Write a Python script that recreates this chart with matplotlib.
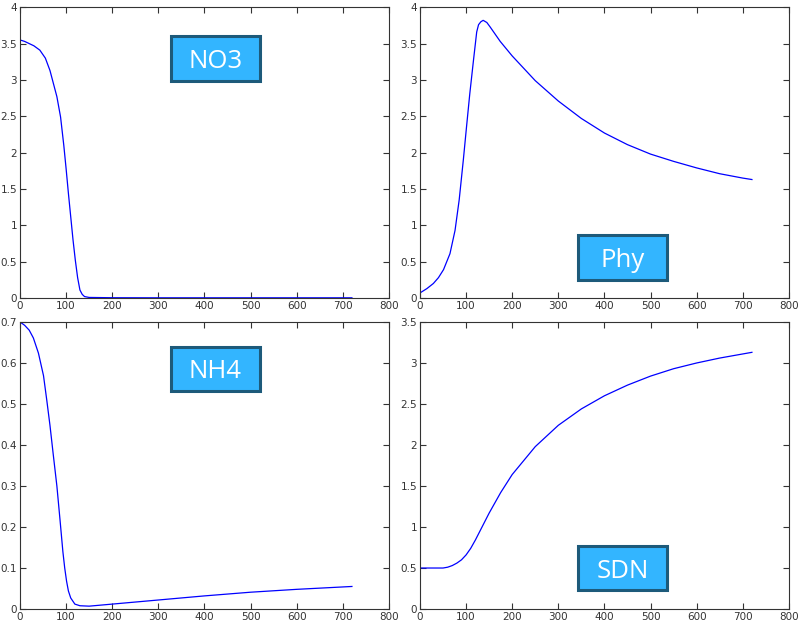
import matplotlib
matplotlib.use('Agg')
import matplotlib.pyplot as plt
from matplotlib.patches import Rectangle

# time axis (days) and the four state variables
t_no3 = [0, 10, 20, 30, 43, 55, 65, 80, 88, 95, 100, 105, 110, 115, 120, 125, 130, 135, 140, 150, 200, 300, 400, 500, 600, 720]
no3 = [3.55, 3.53, 3.5, 3.47, 3.41, 3.3, 3.13, 2.77, 2.49, 2.1, 1.78, 1.44, 1.12, 0.8, 0.52, 0.28, 0.11, 0.05, 0.02, 0.008, 0.004, 0.003, 0.003, 0.003, 0.003, 0.003]

t_phy = [0, 15, 29, 40, 51, 65, 76, 85, 94, 101, 108, 116, 123, 127, 132, 137, 145, 152, 174, 200, 250, 300, 350, 400, 450, 500, 550, 600, 650, 700, 720]
phy = [0.07, 0.13, 0.2, 0.28, 0.39, 0.61, 0.93, 1.35, 1.9, 2.36, 2.81, 3.27, 3.66, 3.76, 3.8, 3.82, 3.79, 3.73, 3.53, 3.33, 2.99, 2.71, 2.47, 2.27, 2.11, 1.98, 1.88, 1.79, 1.71, 1.65, 1.63]

t_nh4 = [0, 10, 20, 29, 40, 51, 58, 65, 72, 80, 87, 93, 97, 101, 105, 110, 119, 130, 150, 200, 300, 400, 500, 600, 720]
nh4 = [0.7, 0.692, 0.68, 0.661, 0.624, 0.569, 0.51, 0.448, 0.378, 0.3, 0.215, 0.14, 0.1, 0.068, 0.044, 0.027, 0.012, 0.008, 0.007, 0.012, 0.022, 0.032, 0.041, 0.048, 0.055]

t_sdn = [0, 25, 50, 60, 70, 80, 90, 100, 110, 120, 130, 140, 150, 175, 200, 250, 300, 350, 400, 450, 500, 550, 600, 650, 700, 720]
sdn = [0.5, 0.5, 0.5, 0.51, 0.53, 0.56, 0.6, 0.66, 0.74, 0.84, 0.95, 1.06, 1.17, 1.42, 1.64, 1.98, 2.24, 2.44, 2.6, 2.73, 2.84, 2.93, 3.0, 3.06, 3.11, 3.13]

titles = ['NO3', 'Phy', 'NH4', 'SDN']
ylims = [4, 4, 0.7, 3.5]
yticks = [[0, 0.5, 1, 1.5, 2, 2.5, 3, 3.5, 4],
          [0, 0.5, 1, 1.5, 2, 2.5, 3, 3.5, 4],
          [0, 0.1, 0.2, 0.3, 0.4, 0.5, 0.6, 0.7],
          [0, 0.5, 1, 1.5, 2, 2.5, 3, 3.5]]
ytick_labels = [['0', '0.5', '1', '1.5', '2', '2.5', '3', '3.5', '4'],
                ['0', '0.5', '1', '1.5', '2', '2.5', '3', '3.5', '4'],
                ['0', '0.1', '0.2', '0.3', '0.4', '0.5', '0.6', '0.7'],
                ['0', '0.5', '1', '1.5', '2', '2.5', '3', '3.5']]
xticks = [0, 100, 200, 300, 400, 500, 600, 700, 800]

series = [(t_no3, no3), (t_phy, phy), (t_nh4, nh4), (t_sdn, sdn)]

W, H = 800, 624
fig = plt.figure(figsize=(W / 100, H / 100), dpi=100)

# axes rectangles in figure fraction (left, bottom, width, height)
rects = [[0.025, 0.5224, 0.461, 0.466],
         [0.525, 0.5224, 0.461, 0.466],
         [0.025, 0.024, 0.461, 0.46],
         [0.525, 0.024, 0.461, 0.46]]
# label boxes in pixels from top-left: (x0, y0, x1, y1)
boxes = [(171, 36, 260, 81), (578, 235, 667, 280), (171, 347, 260, 391), (578, 546, 667, 590)]

for i in range(4):
    ax = fig.add_axes(rects[i])
    t, y = series[i]
    ax.plot(t, y, color='#0000ff', linewidth=0.9)
    ax.set_xlim(0, 800)
    ax.set_ylim(0, ylims[i])
    ax.set_xticks(xticks)
    ax.set_xticklabels([str(v) for v in xticks])
    ax.set_yticks(yticks[i])
    ax.set_yticklabels(ytick_labels[i])
    ax.tick_params(direction='in', top=True, right=True, length=4, width=0.8,
                   labelsize=7.5, labelcolor='#333333', color='#333333', pad=2)
    for s in ax.spines.values():
        s.set_color('#333333')
        s.set_linewidth(0.8)

    x0, y0, x1, y1 = boxes[i]
    fig.patches.append(Rectangle((x0 / W, 1 - y1 / H), (x1 - x0) / W, (y1 - y0) / H,
                                 transform=fig.transFigure, facecolor='#33b5ff',
                                 edgecolor='#1d5a7a', linewidth=2.2, zorder=5))
    fig.text((x0 + x1) / 2 / W, 1 - (y0 + y1) / 2 / H, titles[i], fontsize=18.5,
             color='white', family='Open Sans', ha='center', va='center_baseline',
             zorder=6)

plt.savefig('out.png', dpi=100)
